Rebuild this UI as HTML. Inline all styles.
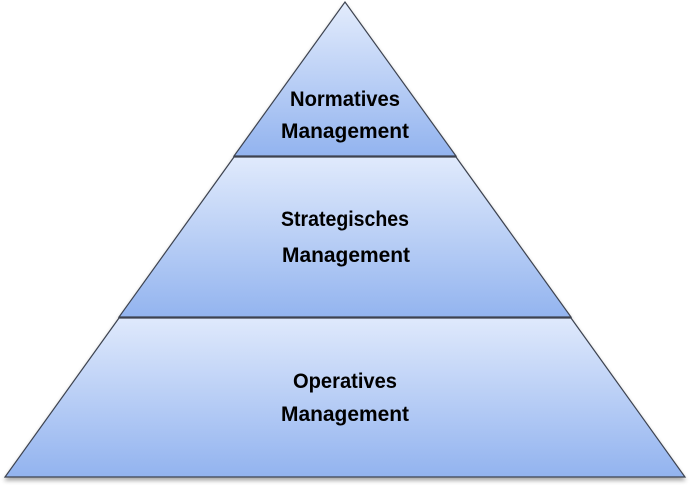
<!DOCTYPE html>
<html><head><meta charset="utf-8"><style>
html,body{margin:0;padding:0;background:#fff;width:690px;height:487px;overflow:hidden}
</style></head><body>
<svg width="690" height="487" viewBox="0 0 690 487" xmlns="http://www.w3.org/2000/svg">
<defs>
<linearGradient id="g1" x1="0" y1="0" x2="0" y2="1"><stop offset="0" stop-color="#e3ecfc"/><stop offset="1" stop-color="#92b3ef"/></linearGradient>
<linearGradient id="g2" x1="0" y1="0" x2="0" y2="1"><stop offset="0" stop-color="#e0eafc"/><stop offset="1" stop-color="#93b4ef"/></linearGradient>
<linearGradient id="g3" x1="0" y1="0" x2="0" y2="1"><stop offset="0" stop-color="#dfe9fc"/><stop offset="1" stop-color="#92b3ef"/></linearGradient>
<filter id="s" x="-5%" y="-5%" width="110%" height="115%"><feGaussianBlur in="SourceAlpha" stdDeviation="2"/><feOffset dx="0" dy="3"/><feComponentTransfer><feFuncA type="linear" slope="0.35"/></feComponentTransfer><feMerge><feMergeNode/><feMergeNode in="SourceGraphic"/></feMerge></filter>
</defs>
<g stroke="#3c4350" stroke-width="1.2" filter="url(#s)">
<polygon points="5,477 685,477 571,318 119,318" fill="url(#g3)"/>
<polygon points="119,317 571,317 456,157 234,157" fill="url(#g2)"/>
<polygon points="234,156 456,156 345,2" fill="url(#g1)"/>
</g>
<g font-family="Liberation Sans, sans-serif" font-weight="bold" font-size="21" fill="#000" text-anchor="middle">
<text x="345" y="106" textLength="110" lengthAdjust="spacingAndGlyphs">Normatives</text>
<text x="345" y="138" textLength="128" lengthAdjust="spacingAndGlyphs">Management</text>
<text x="345" y="226" textLength="128" lengthAdjust="spacingAndGlyphs">Strategisches</text>
<text x="346" y="262" textLength="128" lengthAdjust="spacingAndGlyphs">Management</text>
<text x="345" y="388" textLength="104" lengthAdjust="spacingAndGlyphs">Operatives</text>
<text x="345" y="421" textLength="128" lengthAdjust="spacingAndGlyphs">Management</text>
</g>
</svg>
</body></html>
